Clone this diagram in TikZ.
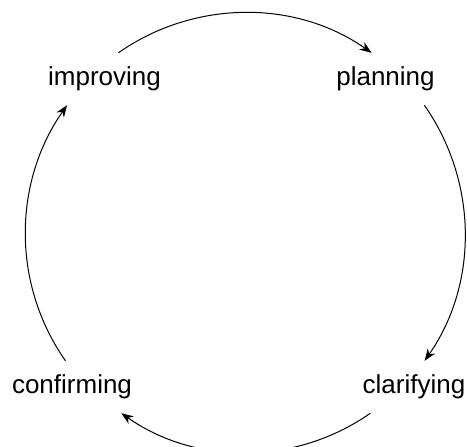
\documentclass[tikz,border=0pt]{standalone}
\usepackage{fontspec}
\setmainfont{Liberation Sans}
\usepackage[]{tikz}
\usetikzlibrary{positioning,arrows.meta}
\tikzset{stage/.style={font=\fontsize{26pt}{31pt}\selectfont,anchor=base,inner sep=14pt,text height=18.5pt,text depth=5.5pt}}
\tikzset{loopline/.style={-{Stealth[length=12pt,width=9pt]},line width=1pt,looseness=0.94}}

\begin{document}
\begin{tikzpicture}[x=1pt,y=1pt] % 1pt = 1 像素
        \useasboundingbox (0,0) rectangle (467,447);
        \node[stage] (improving) at (104.5,361.5) {improving};
        \node[stage] (planning) at (385.5,361.5) {planning};
        \node[stage] (clarifying) at (414,53.5) {clarifying};
        \node[stage] (confirming) at (72,53.5) {confirming};
        \draw[loopline] (improving.62) to[out=35,in=145] (planning.118);   % 顺时针的圆弧
        \draw[loopline] (planning.-34) to[out=-55,in=55] (clarifying.68);
        \draw[loopline] (clarifying.211) to[out=-145,in=-35] (confirming.-28);
        \draw[loopline] (confirming.104) to[out=125,in=-125] (improving.215);
        \end{tikzpicture}
\end{document}
